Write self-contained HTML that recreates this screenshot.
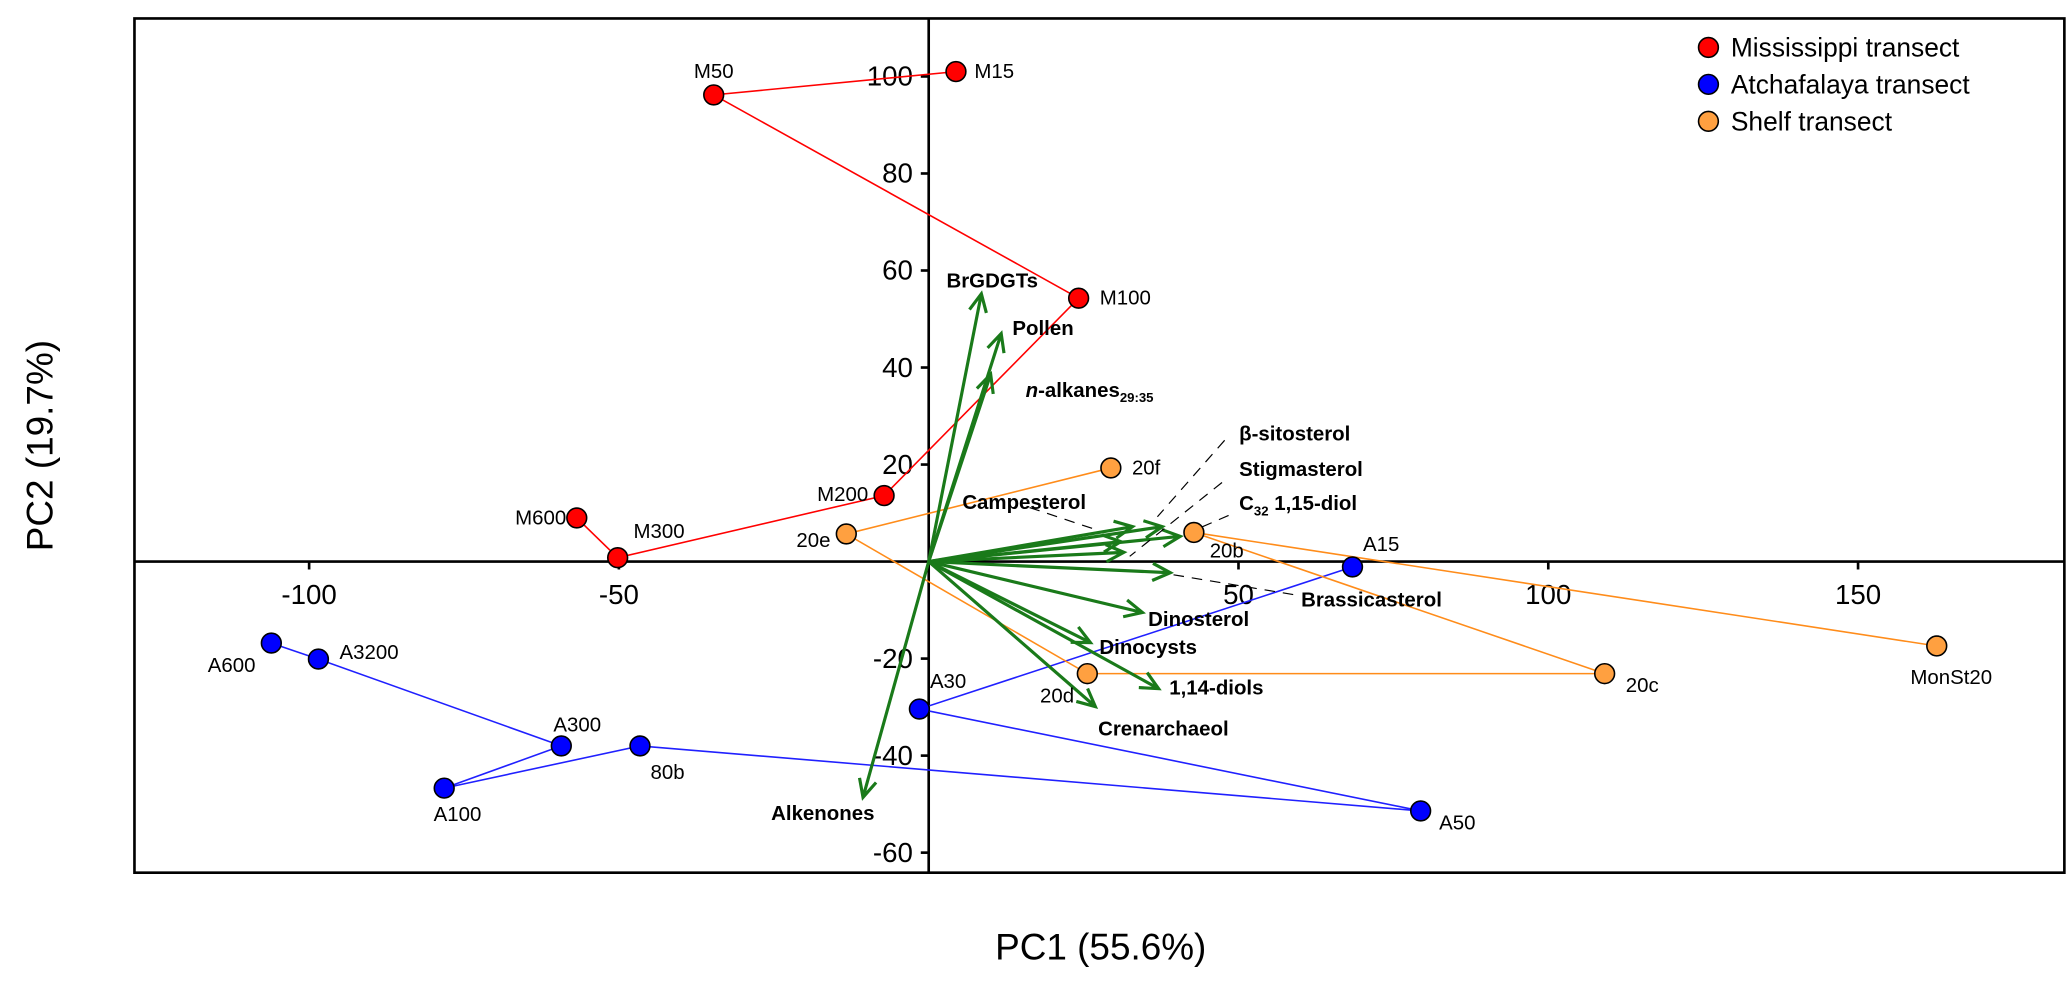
<!DOCTYPE html>
<html><head><meta charset="utf-8"><style>
html,body{margin:0;padding:0;background:#fff;}
svg{display:block;font-family:"Liberation Sans",Arial,sans-serif;}
</style></head><body>
<svg id="chart" width="2067" height="985" viewBox="0 0 1568 747.2" xmlns="http://www.w3.org/2000/svg">
<rect x="102" y="14" width="1464" height="648" fill="#fff" stroke="#000" stroke-width="2"/>
<g id="axes"></g>
<g id="series"></g>
<g id="loadings"></g>
<g id="labels"></g>
<text x="835" y="728" font-size="28" text-anchor="middle">PC1 (55.6%)</text>
<text x="0" y="0" font-size="28" text-anchor="middle" transform="translate(40,338) rotate(-90)">PC2 (19.7%)</text>
<g>
<circle cx="1296" cy="36" r="7.5" fill="#ff0000" stroke="#000" stroke-width="1.2"/>
<text x="1313" y="43" font-size="20">Mississippi transect</text>
<circle cx="1296" cy="64" r="7.5" fill="#0000ff" stroke="#000" stroke-width="1.2"/>
<text x="1313" y="71" font-size="20">Atchafalaya transect</text>
<circle cx="1296" cy="92" r="7.5" fill="#ffa040" stroke="#000" stroke-width="1.2"/>
<text x="1313" y="99" font-size="20">Shelf transect</text>
</g>
</svg>
<script>
const xTicks=[-100,-50,50,100,150];
const yTicks=[100,80,60,40,20,-20,-40,-60];
const missNames=["M15","M50","M100","M200","M300","M600"];
const missX=[4.4,-34.7,24.2,-7.2,-50.2,-56.8];
const missY=[101,96.2,54.3,13.6,0.8,9.0];
const atchNames=["A600","A3200","A300","A100","80b","A50","A30","A15"];
const atchX=[-106.1,-98.5,-59.3,-78.2,-46.6,79.4,-1.5,68.4];
const atchY=[-16.8,-20.1,-38.0,-46.7,-38.0,-51.4,-30.4,-1.1];
const shelfNames=["20f","20e","20d","20c","20b","MonSt20"];
const shelfX=[29.4,-13.3,25.6,109.1,42.8,162.7];
const shelfY=[19.3,5.7,-23.1,-23.1,6.0,-17.4];
const loadNames=["BrGDGTs","Pollen","n-alkanes","Alkenones","Campesterol","beta-sitosterol","Stigmasterol","C32-diol","Brassicasterol","sterol-extra","Dinosterol","Dinocysts","1,14-diols","Crenarchaeol"];
const loadX=[8.5,11.7,10,-10.6,32.9,37.7,31.5,40.6,39.0,31,34.5,26.1,37.1,26.9];
const loadY=[55.2,47,38.6,-48.6,7.2,7.2,1.9,5.2,-2.3,4.1,-10.5,-16.7,-26.2,-29.9];

const NS="http://www.w3.org/2000/svg";
const X0=704.5,KX=4.70,Y0=426,KY=3.68;
const sx=v=>X0+v*KX, sy=v=>Y0-v*KY;
function mk(tag,attrs,parent,text){const e=document.createElementNS(NS,tag);for(const k in attrs)e.setAttribute(k,attrs[k]);if(text!==undefined)e.textContent=text;parent.appendChild(e);return e;}
const axes=document.getElementById('axes');
let e;
e=mk('line',{x1:102,x2:1566,y1:sy(0),y2:sy(0),stroke:'#000','stroke-width':2},axes);


e=mk('line',{x1:sx(0),x2:sx(0),y1:14,y2:662,stroke:'#000','stroke-width':2},axes);


xTicks.forEach(t=>{
 e=mk('line',{x1:sx(t),x2:sx(t),y1:sy(0),y2:sy(0)+6,stroke:'#000','stroke-width':2},axes);
 
 
 e=mk('text',{x:sx(t),y:sy(0)+32,'font-size':21,'text-anchor':'middle'},axes,String(t));
 
 
});
yTicks.forEach(t=>{
 e=mk('line',{x1:sx(0)-6,x2:sx(0),y1:sy(t),y2:sy(t),stroke:'#000','stroke-width':2},axes);
 
 
 e=mk('text',{x:sx(0)-12,y:sy(t)+7,'font-size':21,'text-anchor':'end'},axes,String(t));
 
 
});
const series=document.getElementById('series');
const lab=document.getElementById('labels');
const labelPos={M15:[14,5,'start'],M50:[0,-13,'middle'],M100:[16,5,'start'],M200:[-12,4,'end'],M300:[12,-15,'start'],M600:[-8,5,'end'],
A600:[-12,22,'end'],A3200:[16,0,'start'],A300:[-6,-11,'start'],A100:[-8,25,'start'],"80b":[8,25,'start'],A50:[14,14,'start'],A30:[8,-16,'start'],A15:[8,-12,'start'],
"20f":[16,5,'start'],"20e":[-12,10,'end'],"20d":[-10,22,'end'],"20c":[16,14,'start'],"20b":[12,19,'start'],MonSt20:[-20,29,'start']};
function drawSeries(names,xs,ys,color,lineColor,key){
 const pts=xs.map((v,i)=>sx(v)+','+sy(ys[i])).join(' ');
 let pl=mk('polyline',{points:pts,fill:'none',stroke:lineColor,'stroke-width':1.2},series);
 
 
 names.forEach((n,i)=>{
  let c=mk('circle',{cx:sx(xs[i]),cy:sy(ys[i]),r:7.5,fill:color,stroke:'#000','stroke-width':1.2},lab);
  
  
  const p=labelPos[n]||[10,5,'start'];
  let t=mk('text',{x:sx(xs[i])+p[0],y:sy(ys[i])+p[1],'font-size':15.5,'text-anchor':p[2]},lab,n);
  
  
 });
}
drawSeries(missNames,missX,missY,'#ff0000','#ff0000','mississippi');
drawSeries(atchNames,atchX,atchY,'#0000ff','#2020ff','atchafalaya');
drawSeries(shelfNames,shelfX,shelfY,'#ffa040','#ff8c1a','shelf');

const ld=document.getElementById('loadings');
loadNames.forEach((n,i)=>{
 const x1=sx(0),y1=sy(0),x2=sx(loadX[i]),y2=sy(loadY[i]);
 const a=Math.atan2(y2-y1,x2-x1),L=15,w=0.45;
 const d=`M${x1},${y1}L${x2},${y2}M${x2-L*Math.cos(a-w)},${y2-L*Math.sin(a-w)}L${x2},${y2}L${x2-L*Math.cos(a+w)},${y2-L*Math.sin(a+w)}`;
 let p=mk('path',{d:d,fill:'none',stroke:'#1a7a1a','stroke-width':2.4},ld);
 
 
});
const leaders=[[929,334,878,392],[927,366,857,422],[932,391,895,407],[781,385,829,401],[981,451,890,436]];
leaders.forEach(l=>{
 let q=mk('line',{x1:l[0],y1:l[1],x2:l[2],y2:l[3],stroke:'#000','stroke-width':0.9,'stroke-dasharray':'8,6'},ld);
 
 
});
const lLabels=[["BrGDGTs",718,218],["Pollen",768,254],["β-sitosterol",940,334],["Stigmasterol",940,361],["Campesterol",730,386],["Brassicasterol",987,460],["Dinosterol",871,475],["Dinocysts",834,496],["1,14-diols",887,527],["Crenarchaeol",833,558],["Alkenones",585,622]];
lLabels.forEach(l=>{
 let t=mk('text',{x:l[1],y:l[2],'font-size':15.5,'font-weight':'bold'},ld,l[0]);
 
 
});
let t1=mk('text',{x:778,y:301,'font-size':15.5,'font-weight':'bold'},ld);


mk('tspan',{'font-style':'italic'},t1,'n');
mk('tspan',{},t1,'-alkanes');
mk('tspan',{'font-size':10,dy:4},t1,'29:35');
let t2=mk('text',{x:940,y:387,'font-size':15.5,'font-weight':'bold'},ld);


mk('tspan',{},t2,'C');
mk('tspan',{'font-size':10,dy:4},t2,'32');
mk('tspan',{dy:-4},t2,' 1,15-diol');
</script>
</body></html>
